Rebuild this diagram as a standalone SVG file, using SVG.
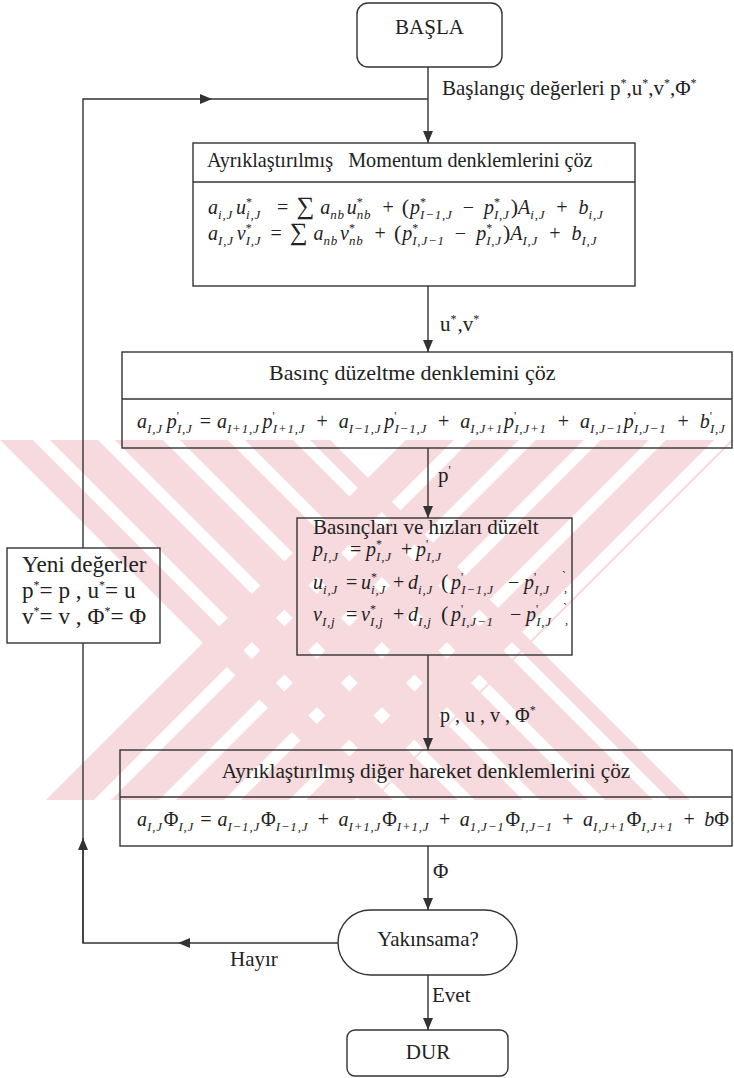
<svg xmlns="http://www.w3.org/2000/svg" width="734" height="1078" viewBox="0 0 734 1078">
<style>
.box{fill:none;stroke:#333;stroke-width:1.4}
.ln{fill:none;stroke:#333;stroke-width:1.4}
.t{font-family:"Liberation Serif","Tinos","Times New Roman","DejaVu Serif",serif;font-size:21px;fill:#222}
.eq{font-family:"Liberation Serif","Tinos","Times New Roman","DejaVu Serif",serif;font-size:20px;font-style:italic;fill:#222}
.sb{font-size:13px;letter-spacing:0.8px}
.st{font-size:12px;font-style:normal}
.op{font-style:normal}
.sig{font-style:normal;font-size:25px}
.par{font-style:normal;font-size:22px}
</style>
<defs>
<marker id="ah" viewBox="0 0 12 10" refX="12" refY="5" markerWidth="12" markerHeight="10" markerUnits="userSpaceOnUse" orient="auto">
<path d="M0,0 L12,5 L0,10 Z" fill="#333"/>
</marker>
<pattern id="stripeA" patternUnits="userSpaceOnUse" width="46" height="46" patternTransform="rotate(-45)">
<rect x="0" y="0" width="34" height="46" fill="#f7dadd"/>
</pattern>
<pattern id="stripeB" patternUnits="userSpaceOnUse" width="46" height="46" patternTransform="rotate(45)">
<rect x="0" y="0" width="34" height="46" fill="#f7dadd"/>
</pattern>
</defs>
<rect x="0" y="0" width="734" height="1078" fill="#ffffff"/>
<g id="watermark">
<polygon points="0,440 330,440 690,800 360,800" fill="url(#stripeA)"/>
<polygon points="734,440 404,440 44,800 374,800" fill="url(#stripeB)"/>
</g>
<g id="connectors">
<path class="ln" d="M428,67 V143" marker-end="url(#ah)"/>
<path class="ln" d="M428,286 V352" marker-end="url(#ah)"/>
<path class="ln" d="M428,448 V518" marker-end="url(#ah)"/>
<path class="ln" d="M428,655 V750" marker-end="url(#ah)"/>
<path class="ln" d="M428,846 V910" marker-end="url(#ah)"/>
<path class="ln" d="M428,975 V1030" marker-end="url(#ah)"/>
<path class="ln" d="M338,943 H178" marker-end="url(#ah)"/>
<path class="ln" d="M178,943 H83 V643"/>
<path class="ln" d="M83,943 V838" marker-end="url(#ah)"/>
<path class="ln" d="M83,548 V99 H212" marker-end="url(#ah)"/>
<path class="ln" d="M212,99 H428"/>
<text class="t" x="442" y="95">Başlangıç değerleri p<tspan class="st" baseline-shift="8">*</tspan>,u<tspan class="st" baseline-shift="8">*</tspan>,v<tspan class="st" baseline-shift="8">*</tspan>,Φ<tspan class="st" baseline-shift="8">*</tspan></text>
<text class="t" x="440" y="331">u<tspan class="st" baseline-shift="8">*</tspan><tspan dx="1">,v</tspan><tspan class="st" baseline-shift="8">*</tspan></text>
<text class="t" x="438" y="482">p<tspan class="st" baseline-shift="8">'</tspan></text>
<text class="t" x="440" y="722" style="font-size:20px">p , u , v , Φ<tspan class="st" baseline-shift="8">*</tspan></text>
<text class="t" x="433" y="878">Φ</text>
<text class="t" x="230" y="966">Hayır</text>
<text class="t" x="432" y="1002">Evet</text>
</g>
<g id="basla">
<rect class="box" x="357" y="3" width="145" height="64" rx="11"/>
<text class="t" x="429.5" y="34" text-anchor="middle">BAŞLA</text>
</g>
<g id="momentum">
<rect class="box" x="193" y="143" width="442" height="143"/>
<line class="ln" x1="193" y1="182" x2="635" y2="182"/>
<text class="t" x="207" y="167" style="font-size:20.2px" xml:space="preserve">Ayrıklaştırılmış   Momentum denklemlerini çöz</text>
<text class="eq" x="208" y="214">a<tspan class="sb" baseline-shift="-5">i,J</tspan><tspan dx="3">u</tspan><tspan class="st" baseline-shift="8">*</tspan><tspan class="sb" dx="-6" baseline-shift="-5">i,J</tspan><tspan class="op" dx="16">=</tspan><tspan class="sig" dx="8">∑</tspan><tspan dx="6">a</tspan><tspan class="sb" baseline-shift="-5">nb</tspan><tspan dx="2">u</tspan><tspan class="st" baseline-shift="8">*</tspan><tspan class="sb" dx="-6" baseline-shift="-5">nb</tspan><tspan class="op" dx="11">+</tspan><tspan class="par" dx="8">(</tspan><tspan dx="1">p</tspan><tspan class="st" baseline-shift="8">*</tspan><tspan class="sb" dx="-6" baseline-shift="-5">I−1,J</tspan><tspan class="op" dx="10">−</tspan><tspan dx="10">p</tspan><tspan class="st" baseline-shift="8">*</tspan><tspan class="sb" dx="-6" baseline-shift="-5">I,J</tspan><tspan class="par" dx="1">)</tspan>A<tspan class="sb" baseline-shift="-5">i,J</tspan><tspan class="op" dx="11">+</tspan><tspan dx="11">b</tspan><tspan class="sb" baseline-shift="-5">i,J</tspan></text>
<text class="eq" x="208" y="240">a<tspan class="sb" baseline-shift="-5">I,J</tspan><tspan dx="3">v</tspan><tspan class="st" baseline-shift="8">*</tspan><tspan class="sb" dx="-6" baseline-shift="-5">I,J</tspan><tspan class="op" dx="9">=</tspan><tspan class="sig" dx="8">∑</tspan><tspan dx="6">a</tspan><tspan class="sb" baseline-shift="-5">nb</tspan><tspan dx="2">v</tspan><tspan class="st" baseline-shift="8">*</tspan><tspan class="sb" dx="-6" baseline-shift="-5">nb</tspan><tspan class="op" dx="11">+</tspan><tspan class="par" dx="8">(</tspan><tspan dx="1">p</tspan><tspan class="st" baseline-shift="8">*</tspan><tspan class="sb" dx="-6" baseline-shift="-5">I,J−1</tspan><tspan class="op" dx="10">−</tspan><tspan dx="10">p</tspan><tspan class="st" baseline-shift="8">*</tspan><tspan class="sb" dx="-6" baseline-shift="-5">I,J</tspan><tspan class="par" dx="1">)</tspan>A<tspan class="sb" baseline-shift="-5">I,J</tspan><tspan class="op" dx="11">+</tspan><tspan dx="11">b</tspan><tspan class="sb" baseline-shift="-5">I,J</tspan></text>
</g>
<g id="pressure">
<rect class="box" x="122" y="352" width="610" height="96"/>
<line class="ln" x1="122" y1="399" x2="732" y2="399"/>
<text class="t" x="269" y="380" style="font-size:22px">Basınç düzeltme denklemini çöz</text>
<text class="eq" x="137" y="428">a<tspan class="sb" baseline-shift="-5">I,J</tspan><tspan dx="4">p</tspan><tspan class="st" baseline-shift="8">'</tspan><tspan class="sb" dx="-2" baseline-shift="-5">I,J</tspan><tspan class="op" dx="7">=</tspan><tspan dx="6">a</tspan><tspan class="sb" baseline-shift="-5">I+1,J</tspan><tspan dx="3">p</tspan><tspan class="st" baseline-shift="8">'</tspan><tspan class="sb" dx="-2" baseline-shift="-5">I+1,J</tspan><tspan class="op" dx="11">+</tspan><tspan dx="11">a</tspan><tspan class="sb" baseline-shift="-5">I−1,J</tspan><tspan dx="3">p</tspan><tspan class="st" baseline-shift="8">'</tspan><tspan class="sb" dx="-2" baseline-shift="-5">I−1,J</tspan><tspan class="op" dx="11">+</tspan><tspan dx="11">a</tspan><tspan class="sb" baseline-shift="-5">I,J+1</tspan><tspan dx="1">p</tspan><tspan class="st" baseline-shift="8">'</tspan><tspan class="sb" dx="-2" baseline-shift="-5">I,J+1</tspan><tspan class="op" dx="11">+</tspan><tspan dx="11">a</tspan><tspan class="sb" baseline-shift="-5">I,J−1</tspan><tspan dx="1">p</tspan><tspan class="st" baseline-shift="8">'</tspan><tspan class="sb" dx="-2" baseline-shift="-5">I,J−1</tspan><tspan class="op" dx="11">+</tspan><tspan dx="11">b</tspan><tspan class="st" baseline-shift="8">'</tspan><tspan class="sb" dx="-2" baseline-shift="-5">I,J</tspan></text>
</g>
<g id="velocity">
<rect class="box" x="297" y="518" width="275" height="137"/>
<text class="t" x="313" y="534">Basınçları ve hızları düzelt</text>
<text class="eq" y="556"><tspan x="313">p</tspan><tspan class="sb" baseline-shift="-5">I,J</tspan><tspan class="op" x="350">=</tspan><tspan x="366">p</tspan><tspan class="st" baseline-shift="8">*</tspan><tspan class="sb" dx="-6" baseline-shift="-5">I,J</tspan><tspan class="op" x="401">+</tspan><tspan x="416">p</tspan><tspan class="st" baseline-shift="8">'</tspan><tspan class="sb" dx="-2" baseline-shift="-5">I,J</tspan></text>
<text class="eq" y="589"><tspan x="313">u</tspan><tspan class="sb" baseline-shift="-5">i,J</tspan><tspan class="op" x="346">=</tspan><tspan x="361">u</tspan><tspan class="st" baseline-shift="8">*</tspan><tspan class="sb" dx="-6" baseline-shift="-5">i,J</tspan><tspan class="op" x="393">+</tspan><tspan x="408">d</tspan><tspan class="sb" baseline-shift="-5">i,J</tspan><tspan class="par" x="441">(</tspan><tspan x="451">p</tspan><tspan class="st" baseline-shift="8">'</tspan><tspan class="sb" dx="-2" baseline-shift="-5">I−1,J</tspan><tspan class="op" x="508">−</tspan><tspan x="524">p</tspan><tspan class="st" baseline-shift="8">'</tspan><tspan class="sb" dx="-2" baseline-shift="-5">I,J</tspan><tspan class="st" x="562" baseline-shift="9">`</tspan><tspan class="st" x="564" baseline-shift="-3">,</tspan></text>
<text class="eq" y="621"><tspan x="313">v</tspan><tspan class="sb" baseline-shift="-5">I,j</tspan><tspan class="op" x="346">=</tspan><tspan x="361">v</tspan><tspan class="st" baseline-shift="8">*</tspan><tspan class="sb" dx="-6" baseline-shift="-5">I,j</tspan><tspan class="op" x="393">+</tspan><tspan x="408">d</tspan><tspan class="sb" baseline-shift="-5">I,j</tspan><tspan class="par" x="441">(</tspan><tspan x="451">p</tspan><tspan class="st" baseline-shift="8">'</tspan><tspan class="sb" dx="-2" baseline-shift="-5">I,J−1</tspan><tspan class="op" x="510">−</tspan><tspan x="526">p</tspan><tspan class="st" baseline-shift="8">'</tspan><tspan class="sb" dx="-2" baseline-shift="-5">I,J</tspan><tspan class="st" x="563" baseline-shift="9">`</tspan><tspan class="st" x="565" baseline-shift="-3">,</tspan></text>
</g>
<g id="yeni">
<rect class="box" x="7" y="548" width="153" height="95"/>
<text class="t" x="22" y="572" style="font-size:23.2px">Yeni değerler</text>
<text class="t" x="22" y="598" style="font-size:23.2px">p<tspan class="st" baseline-shift="9">*</tspan>= p , u<tspan class="st" baseline-shift="9">*</tspan>= u</text>
<text class="t" x="22" y="624" style="font-size:23.2px">v<tspan class="st" baseline-shift="9">*</tspan>= v , Φ<tspan class="st" baseline-shift="9">*</tspan>= Φ</text>
</g>
<g id="other">
<rect class="box" x="120" y="750" width="612" height="96"/>
<line class="ln" x1="120" y1="797" x2="732" y2="797"/>
<text class="t" x="426" y="778" style="font-size:21.3px" text-anchor="middle">Ayrıklaştırılmış diğer hareket denklemlerini çöz</text>
<text class="eq" x="137" y="826">a<tspan class="sb" baseline-shift="-5">I,J</tspan><tspan class="op" dx="1">Φ</tspan><tspan class="sb" baseline-shift="-5">I,J</tspan><tspan class="op" dx="6">=</tspan><tspan dx="6">a</tspan><tspan class="sb" baseline-shift="-5">I−1,J</tspan><tspan class="op" dx="1">Φ</tspan><tspan class="sb" baseline-shift="-5">I−1,J</tspan><tspan class="op" dx="9.5">+</tspan><tspan dx="9.5">a</tspan><tspan class="sb" baseline-shift="-5">I+1,J</tspan><tspan class="op" dx="1">Φ</tspan><tspan class="sb" baseline-shift="-5">I+1,J</tspan><tspan class="op" dx="9.5">+</tspan><tspan dx="9.5">a</tspan><tspan class="sb" baseline-shift="-5">1,J−1</tspan><tspan class="op" dx="1">Φ</tspan><tspan class="sb" baseline-shift="-5">I,J−1</tspan><tspan class="op" dx="9.5">+</tspan><tspan dx="9.5">a</tspan><tspan class="sb" baseline-shift="-5">I,J+1</tspan><tspan class="op" dx="1">Φ</tspan><tspan class="sb" baseline-shift="-5">I,J+1</tspan><tspan class="op" dx="9.5">+</tspan><tspan dx="9.5">b</tspan><tspan class="op">Φ</tspan></text>
</g>
<g id="yakinsama">
<rect class="box" x="338" y="910" width="179" height="65" rx="32.5"/>
<text class="t" x="428" y="946" text-anchor="middle">Yakınsama?</text>
</g>
<g id="dur">
<rect class="box" x="347" y="1030" width="161" height="46" rx="8"/>
<text class="t" x="428" y="1059" text-anchor="middle">DUR</text>
</g>
</svg>
